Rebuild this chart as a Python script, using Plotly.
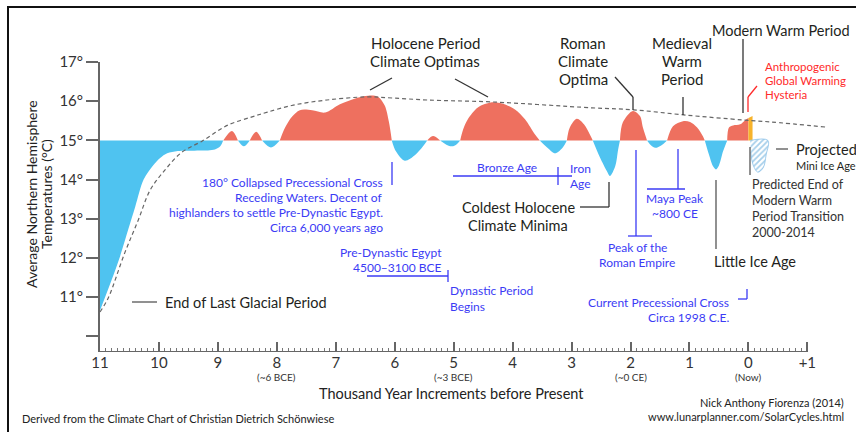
import plotly.graph_objects as go

# ---------------- data ----------------
# temperature curve, thousand years before present -> deg C (15 = baseline crossing)
years = [11.00, 10.80, 10.66, 10.52, 10.40, 10.26, 10.10, 9.98, 9.86, 9.68, 9.31, 9.05, 8.96, 8.91,
         8.76, 8.66,
         8.56, 8.46,
         8.35, 8.25,
         8.10, 7.95,
         7.86, 7.74, 7.61, 7.40, 7.18, 6.93, 6.67, 6.45, 6.28, 6.17, 6.10, 6.05,
         5.98, 5.83, 5.66, 5.52, 5.45,
         5.35, 5.23,
         5.06, 4.98, 4.89,
         4.84, 4.76, 4.59, 4.35, 4.18, 3.96, 3.79, 3.62, 3.54,
         3.40, 3.28, 3.16, 3.08,
         3.03, 2.91, 2.79, 2.69, 2.64,
         2.52, 2.40, 2.35, 2.26, 2.21, 2.18,
         2.13, 1.96, 1.84, 1.79, 1.72,
         1.65, 1.58, 1.48, 1.38,
         1.28, 1.11, 0.99, 0.87, 0.77, 0.74,
         0.67, 0.60, 0.55, 0.50, 0.43, 0.36,
         0.33, 0.26, 0.14, 0.06, 0.00]
temps = [10.66, 11.45, 12.04, 12.73, 13.32, 14.00, 14.36, 14.55, 14.67, 14.73, 14.74, 14.77, 14.85, 15.0,
         15.24, 15.0,
         14.85, 15.0,
         15.22, 15.0,
         14.82, 15.0,
         15.33, 15.61, 15.77, 15.77, 15.71, 15.92, 16.07, 16.14, 16.11, 15.89, 15.48, 15.0,
         14.72, 14.48, 14.62, 14.85, 15.0,
         15.11, 15.0,
         14.85, 14.87, 15.0,
         15.28, 15.54, 15.84, 15.97, 15.94, 15.79, 15.54, 15.15, 15.0,
         14.80, 14.67, 14.80, 15.0,
         15.33, 15.55, 15.41, 15.15, 15.0,
         14.57, 14.21, 14.09, 14.34, 14.77, 15.0,
         15.46, 15.75, 15.62, 15.33, 15.0,
         14.87, 14.81, 14.87, 15.0,
         15.36, 15.49, 15.47, 15.33, 15.10, 15.0,
         14.64, 14.34, 14.26, 14.36, 14.72, 15.0,
         15.33, 15.38, 15.41, 15.51, 15.57]
BASELINE = 15.0

# dashed long-term trend
trend_years = [11.0, 10.86, 10.58, 10.35, 10.15, 9.90, 9.61, 9.27, 8.83, 8.42, 8.16, 7.72,
               7.15, 6.47, 6.03, 5.45, 4.34, 2.65, 1.95, 1.10, 0.08, -0.38, -1.31]
trend_temps = [10.62, 10.98, 12.13, 12.97, 13.73, 14.24, 14.70, 14.98, 15.39, 15.60, 15.72, 15.90,
               16.03, 16.11, 16.08, 16.03, 15.98, 15.83, 15.78, 15.65, 15.52, 15.47, 15.34]

# modern warm spike
modern_years = [0.00, -0.07, -0.07, 0.00]
modern_temps = [15.0, 15.0, 15.62, 15.57]

# projected mini ice age
proj_years = [-0.03, -0.33, -0.30, -0.25, -0.16, -0.08, -0.04]
proj_temps = [15.0, 15.0, 14.63, 14.30, 14.19, 14.37, 14.70]

# axes
x_ticks = [11, 10, 9, 8, 7, 6, 5, 4, 3, 2, 1, 0, -1]
x_tick_labels = ["11", "10", "9", "8", "7", "6", "5", "4", "3", "2", "1", "0", "+1"]
x_minor = [i / 10 for i in range(-10, 111)]
y_ticks = [10, 11, 12, 13, 14, 15, 16, 17]
y_tick_labels = ["", "11°", "12°", "13°", "14°", "15°", "16°", "17°"]
x_sub_labels = {8: "(~6 BCE)", 5: "(~3 BCE)", 2: "(~0 CE)", 0: "(Now)"}

# ---------------- styling / layout ----------------
W, H = 856, 432
L, R, T, B = 100, 28, 62, 80
PW, PH = W - L - R, H - T - B
FONT = "Lato, 'Open Sans', sans-serif"
RED = "#EE705F"
BLUE = "#4FC3F0"
TXT = "#231F20"
TBLUE = "#3B3BF5"
TRED = "#FF2A2A"
GRAY = "#555555"


def px(x):
    return (x - L) / PW


def py(y):
    return (H - B - y) / PH


fig = go.Figure()

# split the curve into lobes at baseline crossings
segments = []
start = 0
for i in range(1, len(years)):
    if temps[i] == BASELINE or i == len(years) - 1:
        segments.append((years[start:i + 1], temps[start:i + 1]))
        start = i
for sx, st in segments:
    above = sum(t - BASELINE for t in st) > 0
    fig.add_trace(go.Scatter(x=[sx[0], sx[-1]], y=[BASELINE, BASELINE], mode="lines",
                             line=dict(width=0), hoverinfo="skip", showlegend=False))
    fig.add_trace(go.Scatter(x=sx, y=st, mode="lines", fill="tonexty",
                             fillcolor=RED if above else BLUE,
                             line=dict(width=0, shape="spline", smoothing=0.9),
                             hoverinfo="skip", showlegend=False))

fig.add_trace(go.Scatter(x=modern_years, y=modern_temps, mode="lines", fill="toself",
                         fillcolor="#F7B32B", line=dict(width=0), showlegend=False))
fig.add_trace(go.Scatter(x=proj_years, y=proj_temps, mode="lines", fill="toself",
                         fillcolor="white",
                         fillpattern=dict(shape="/", fgcolor="#4E9FD6", bgcolor="white",
                                          size=4, solidity=0.45),
                         line=dict(width=0.8, color="#8CC2E8", shape="spline"),
                         showlegend=False))
fig.add_trace(go.Scatter(x=trend_years, y=trend_temps, mode="lines",
                         line=dict(color="#666666", width=1.2, dash="4px,3px", shape="spline"),
                         showlegend=False))

shapes = []


def seg(points, color=GRAY, width=1.3):
    for (x0, y0), (x1, y1) in zip(points[:-1], points[1:]):
        shapes.append(dict(type="line", xref="paper", yref="paper",
                           x0=px(x0), y0=py(y0), x1=px(x1), y1=py(y1),
                           line=dict(color=color, width=width), layer="above"))


# x-axis baseline (only up to +1)
shapes.append(dict(type="line", xref="x", yref="y", x0=11, x1=-1, y0=9.6, y1=9.6,
                   line=dict(color="#666666", width=2), layer="above"))
# outer frame
shapes.append(dict(type="rect", xref="paper", yref="paper",
                   x0=px(8), y0=py(460), x1=px(880), y1=py(7),
                   line=dict(color="#111111", width=2), layer="below"))

# black pointer lines
seg([(392, 78), (370, 90)], "#333333")
seg([(455, 79), (488, 97)], "#333333")
seg([(615, 77), (633, 97), (633, 110)], "#333333")
seg([(683, 97), (683, 115)], "#333333")
seg([(743, 39), (743, 113)], "#333333")
seg([(580, 207), (609, 207), (609, 182)], "#333333")
seg([(716, 180), (716, 249)], GRAY)
seg([(750, 147), (750, 175)], GRAY)
seg([(132, 302), (157, 302)], GRAY)
seg([(776, 149), (788, 149)], GRAY)
seg([(757, 86), (748, 97), (748, 112)], TRED)
# blue pointer lines
seg([(392, 162), (392, 185)], TBLUE)
seg([(453, 176), (572, 176)], TBLUE)
seg([(558, 167), (558, 185)], TBLUE)
seg([(367, 276), (448, 276)], TBLUE)
seg([(448, 270), (448, 282)], TBLUE)
seg([(647, 189), (685, 189)], TBLUE)
seg([(678, 149), (678, 189)], TBLUE)
seg([(636, 150), (636, 236)], TBLUE)
seg([(628, 236), (652, 236)], TBLUE)
seg([(738, 299), (747, 299), (747, 289)], TBLUE)

annotations = []


def txt(text, x, y, size=14, color=TXT, anchor="center", angle=0):
    annotations.append(dict(text=text, xref="paper", yref="paper", x=px(x), y=py(y),
                            xanchor=anchor, yanchor="middle", showarrow=False,
                            textangle=angle, font=dict(family=FONT, size=size, color=color)))


# black labels
txt("Holocene Period", 425, 43, 15)
txt("Climate Optimas", 425, 61, 15)
for i, s in enumerate(["Roman", "Climate", "Optima"]):
    txt(s, 583, 43 + 18 * i, 15)
for i, s in enumerate(["Medieval", "Warm", "Period"]):
    txt(s, 682, 43 + 18 * i, 15)
txt("Modern Warm Period", 852, 30, 14.5, TXT, "right")
for i, s in enumerate(["Anthropogenic", "Global Warming", "Hysteria"]):
    txt(s, 763, 66 + 14 * i, 11.5, TRED, "left")
txt("Projected", 794, 149, 14.5, TXT, "left")
txt("Mini Ice Age", 794, 165, 11, TXT, "left")
for i, s in enumerate(["Predicted End of", "Modern Warm", "Period Transition", "2000-2014"]):
    txt(s, 750, 184 + 16 * i, 12.5, "#333333", "left")
txt("Little Ice Age", 755, 261, 14.5)
txt("Coldest Holocene", 518, 207, 14.5)
txt("Climate Minima", 518, 225, 14.5)
txt("End of Last Glacial Period", 163, 302, 14.5, TXT, "left")

# blue labels
BS = 12
for i, s in enumerate(["180° Collapsed Precessional Cross", "Receding Waters. Decent of",
                       "highlanders to settle Pre-Dynastic Egypt.", "Circa 6,000 years ago"]):
    txt(s, 385, 182 + 15.3 * i, BS, TBLUE, "right")
txt("Bronze Age", 507, 167, BS, TBLUE)
txt("Iron", 568, 168, BS, TBLUE, "left")
txt("Age", 568, 183, BS, TBLUE, "left")
txt("Pre-Dynastic Egypt", 444, 252, BS, TBLUE, "right")
txt("4500–3100 BCE", 443, 267, BS, TBLUE, "right")
txt("Dynastic Period", 448, 290, BS, TBLUE, "left")
txt("Begins", 448, 306, BS, TBLUE, "left")
txt("Maya Peak", 675, 198, BS, TBLUE)
txt("~800 CE", 675, 214, BS, TBLUE)
txt("Peak of the", 637, 247, BS, TBLUE)
txt("Roman Empire", 637, 262, BS, TBLUE)
txt("Current Precessional Cross", 731, 302, BS, TBLUE, "right")
txt("Circa 1998 C.E.", 731, 317, BS, TBLUE, "right")

# axis decorations
for xv, s in x_sub_labels.items():
    annotations.append(dict(text=s, xref="x", yref="paper", x=xv, y=py(377),
                            xanchor="center", yanchor="middle", showarrow=False,
                            font=dict(family=FONT, size=10, color="#333333")))
txt("Thousand Year Increments before Present", 451, 393, 14.5, "#222222")
txt("Average Northern Hemisphere", 31, 194, 14, "#222222", "center", -90)
txt("Temperatures (°C)", 46, 194, 14, "#222222", "center", -90)

# credits
txt("Derived from the Climate Chart of Christian Dietrich Schönwiese", 20, 418, 11, "#222222", "left")
txt("Nick Anthony Fiorenza (2014)", 846, 402, 11, "#222222", "right")
txt("www.lunarplanner.com/SolarCycles.html", 846, 417, 11, "#222222", "right")

fig.update_layout(
    width=W, height=H,
    margin=dict(l=L, r=R, t=T, b=B),
    paper_bgcolor="white", plot_bgcolor="white",
    showlegend=False,
    shapes=shapes, annotations=annotations,
    xaxis=dict(range=[11, -1.35], showgrid=False, zeroline=False, showline=False,
               tickmode="array", tickvals=x_ticks, ticktext=x_tick_labels,
               ticks="inside", ticklen=10, tickwidth=1.5, tickcolor="#666666",
               tickfont=dict(family=FONT, size=15, color="#333333"),
               minor=dict(tickmode="array", tickvals=x_minor, ticks="inside",
                          ticklen=4, tickwidth=1, tickcolor="#777777", showgrid=False)),
    yaxis=dict(range=[9.6, 17.0], showgrid=False, zeroline=False, showline=True,
               linecolor="#666666", linewidth=2,
               tickmode="array", tickvals=y_ticks, ticktext=y_tick_labels,
               ticks="outside", ticklen=12, tickwidth=2, tickcolor="#666666",
               tickfont=dict(family=FONT, size=15, color="#333333")),
)

fig.write_html(
    "out.html",
    config={"displayModeBar": False},
    post_script="document.body.style.margin='0';document.body.style.overflow='hidden';",
)
